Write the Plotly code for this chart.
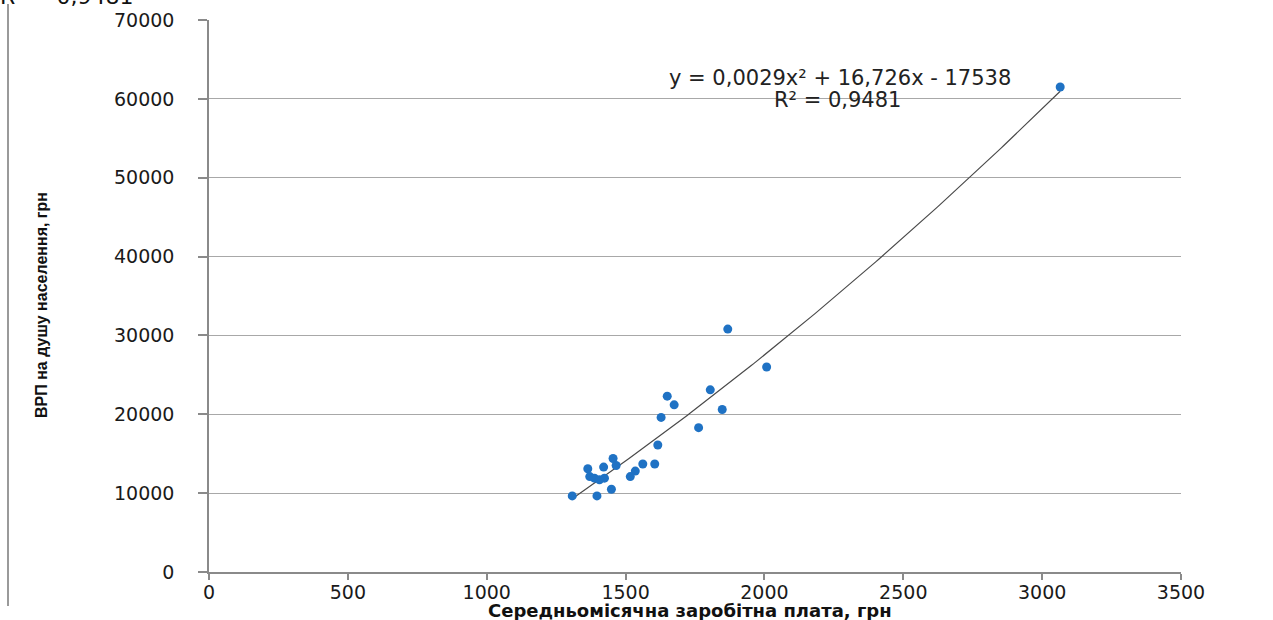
import numpy as np
import plotly.graph_objects as go

# Data
wage = [3065, 1868, 2008, 1650, 1805, 1675, 1848, 1628, 1763, 1616,
        1455, 1364, 1421, 1466, 1562, 1605, 1535, 1517, 1371, 1388,
        1424, 1406, 1449, 1308, 1397]
grp = [61500, 30800, 26000, 22300, 23100, 21200, 20600, 19600, 18300, 16100,
       14400, 13100, 13300, 13500, 13700, 13700, 12800, 12100, 12100, 11900,
       11900, 11700, 10500, 9650, 9650]

# Trendline coefficients shown on the chart: y = 0,0029x² + 16,726x - 17538
trend_coef = [0.0029, 16.726, -17538]
eq_text = "y = 0,0029x² + 16,726x - 17538"
r2_text = "R² = 0,9481"
cut_text = "R² = 0,9481"

x_ticks = [0, 500, 1000, 1500, 2000, 2500, 3000, 3500]
y_ticks = [0, 10000, 20000, 30000, 40000, 50000, 60000, 70000]
x_title = "Середньомісячна заробітна плата, грн"
y_title = "ВРП на душу населення, грн"

W, H = 1273, 620
L, R, T, B = 209, 92, 20, 48
pw, ph = W - L - R, H - T - B


def px(xp):
    return (xp - L) / pw


def py(yp):
    return (H - B - yp) / ph


xt = np.linspace(min(wage), max(wage), 200)
yt = np.polyval(trend_coef, xt)

fig = go.Figure()
fig.add_trace(go.Scatter(x=xt, y=yt, mode="lines",
                         line=dict(color="#4a4a4a", width=1.2),
                         hoverinfo="skip", showlegend=False))
fig.add_trace(go.Scatter(x=wage, y=grp, mode="markers",
                         marker=dict(color="#1f72c4", size=9, line=dict(width=0)),
                         showlegend=False))

tickfont = dict(family="DejaVu Sans", size=19, color="#1a1a1a")

fig.update_xaxes(range=[0, 3500], tickvals=x_ticks, ticktext=[str(v) for v in x_ticks],
                 showgrid=False, zeroline=False, showline=True, linecolor="#8a8a8a",
                 linewidth=1.5, ticks="outside", ticklen=6, tickcolor="#8a8a8a",
                 tickwidth=1.5, tickfont=tickfont, ticklabelstandoff=-4)
fig.update_yaxes(range=[0, 70000], tickvals=y_ticks, ticktext=[str(v) for v in y_ticks],
                 showgrid=True, gridcolor="#a8a8a8", gridwidth=1, zeroline=False,
                 showline=True, linecolor="#8a8a8a", linewidth=1.5,
                 ticks="outside", ticklen=9, tickcolor="#8a8a8a", tickwidth=1.5,
                 tickfont=tickfont, ticklabelstandoff=20)

annotations = [
    dict(text=eq_text, x=px(840), y=py(78), xref="paper", yref="paper",
         showarrow=False, xanchor="center", yanchor="middle",
         font=dict(family="DejaVu Sans", size=21, color="#222")),
    dict(text=r2_text, x=px(837), y=py(100), xref="paper", yref="paper",
         showarrow=False, xanchor="center", yanchor="middle",
         font=dict(family="DejaVu Sans", size=21, color="#222")),
    dict(text=cut_text, x=px(-2), y=py(-4), xref="paper", yref="paper",
         showarrow=False, xanchor="left", yanchor="middle",
         font=dict(family="DejaVu Sans", size=22, color="#111")),
    dict(text="<b>" + x_title + "</b>", x=px(690), y=py(610), xref="paper", yref="paper",
         showarrow=False, xanchor="center", yanchor="middle",
         font=dict(family="DejaVu Sans", size=18, color="#111")),
    dict(text="<b>" + y_title + "</b>", x=px(41), y=py(305), xref="paper", yref="paper",
         showarrow=False, xanchor="center", yanchor="middle", textangle=-90,
         font=dict(family="Liberation Sans Narrow, Liberation Sans", size=16, color="#111")),
]

shapes = [
    dict(type="line", xref="paper", yref="paper", x0=px(8), x1=px(8), y0=py(4), y1=py(606),
         line=dict(color="#9a9a9a", width=2)),
]

fig.update_layout(width=W, height=H, margin=dict(l=L, r=R, t=T, b=B, autoexpand=False),
                  paper_bgcolor="white", plot_bgcolor="white",
                  annotations=annotations, shapes=shapes, showlegend=False)

fig.write_html("out.html", config={"displayModeBar": False},
               post_script="document.body.style.margin='0';document.body.style.overflow='hidden';")
